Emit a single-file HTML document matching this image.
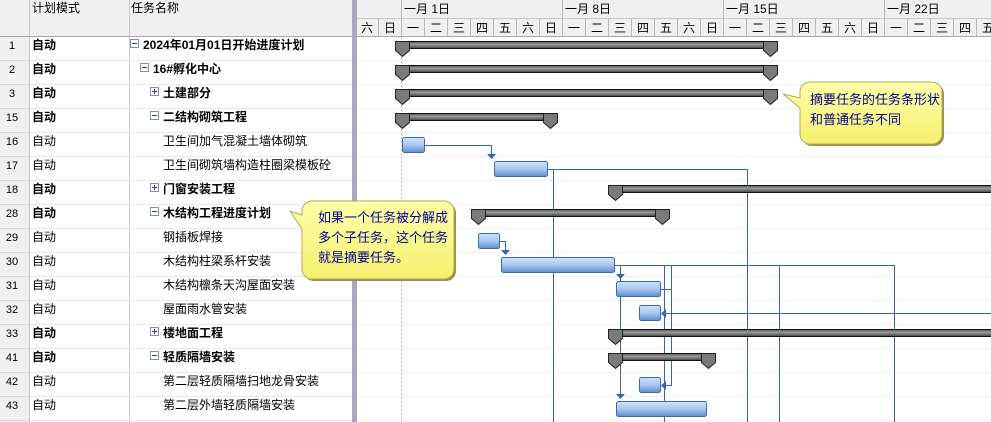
<!DOCTYPE html><html><head><meta charset="utf-8"><style>body{margin:0;width:991px;height:422px;overflow:hidden;background:#fff}svg{display:block}text{font-family:"Liberation Sans","Noto Sans CJK SC","WenQuanYi Zen Hei",sans-serif;font-size:12px}</style></head><body>
<svg width="991" height="422" xmlns="http://www.w3.org/2000/svg">
<defs>
<linearGradient id="tb" x1="0" y1="0" x2="0" y2="1"><stop offset="0" stop-color="#cfe2fb"/><stop offset="0.5" stop-color="#a9c6ef"/><stop offset="1" stop-color="#5f8ccc"/></linearGradient>
<linearGradient id="sb" x1="0" y1="0" x2="0" y2="1"><stop offset="0" stop-color="#555"/><stop offset="0.4" stop-color="#9a9a9a"/><stop offset="1" stop-color="#444"/></linearGradient>
<linearGradient id="yb" x1="0" y1="0" x2="0" y2="1"><stop offset="0" stop-color="#ffffa8"/><stop offset="1" stop-color="#f6f070"/></linearGradient>
</defs>
<!-- header -->
<rect x="0" y="0" width="991" height="36" fill="#f0f0f0"/>
<rect x="0" y="36" width="29" height="386" fill="#f0f0f0"/>
<g stroke="#c8c8c8" stroke-width="1">
<line x1="29.5" y1="0" x2="29.5" y2="422"/><line x1="129.5" y1="0" x2="129.5" y2="422"/>
<line x1="357" y1="18.5" x2="991" y2="18.5"/>
</g>
<g stroke="#e8e8e8">
<line x1="30" y1="60.5" x2="352" y2="60.5"/><line x1="30" y1="84.5" x2="352" y2="84.5"/><line x1="30" y1="108.5" x2="352" y2="108.5"/><line x1="30" y1="132.5" x2="352" y2="132.5"/><line x1="30" y1="156.5" x2="352" y2="156.5"/><line x1="30" y1="180.5" x2="352" y2="180.5"/><line x1="30" y1="204.5" x2="352" y2="204.5"/><line x1="30" y1="228.5" x2="352" y2="228.5"/><line x1="30" y1="252.5" x2="352" y2="252.5"/><line x1="30" y1="276.5" x2="352" y2="276.5"/><line x1="30" y1="300.5" x2="352" y2="300.5"/><line x1="30" y1="324.5" x2="352" y2="324.5"/><line x1="30" y1="348.5" x2="352" y2="348.5"/><line x1="30" y1="372.5" x2="352" y2="372.5"/><line x1="30" y1="396.5" x2="352" y2="396.5"/><line x1="30" y1="420.5" x2="352" y2="420.5"/>
</g>
<g stroke="#f0f0f0">
<line x1="357" y1="60.5" x2="991" y2="60.5"/><line x1="357" y1="84.5" x2="991" y2="84.5"/><line x1="357" y1="108.5" x2="991" y2="108.5"/><line x1="357" y1="132.5" x2="991" y2="132.5"/><line x1="357" y1="156.5" x2="991" y2="156.5"/><line x1="357" y1="180.5" x2="991" y2="180.5"/><line x1="357" y1="204.5" x2="991" y2="204.5"/><line x1="357" y1="228.5" x2="991" y2="228.5"/><line x1="357" y1="252.5" x2="991" y2="252.5"/><line x1="357" y1="276.5" x2="991" y2="276.5"/><line x1="357" y1="300.5" x2="991" y2="300.5"/><line x1="357" y1="324.5" x2="991" y2="324.5"/><line x1="357" y1="348.5" x2="991" y2="348.5"/><line x1="357" y1="372.5" x2="991" y2="372.5"/><line x1="357" y1="396.5" x2="991" y2="396.5"/><line x1="357" y1="420.5" x2="991" y2="420.5"/>
</g>
<g stroke="#d8d8d8"><line x1="0" y1="60.5" x2="29" y2="60.5"/><line x1="0" y1="84.5" x2="29" y2="84.5"/><line x1="0" y1="108.5" x2="29" y2="108.5"/><line x1="0" y1="132.5" x2="29" y2="132.5"/><line x1="0" y1="156.5" x2="29" y2="156.5"/><line x1="0" y1="180.5" x2="29" y2="180.5"/><line x1="0" y1="204.5" x2="29" y2="204.5"/><line x1="0" y1="228.5" x2="29" y2="228.5"/><line x1="0" y1="252.5" x2="29" y2="252.5"/><line x1="0" y1="276.5" x2="29" y2="276.5"/><line x1="0" y1="300.5" x2="29" y2="300.5"/><line x1="0" y1="324.5" x2="29" y2="324.5"/><line x1="0" y1="348.5" x2="29" y2="348.5"/><line x1="0" y1="372.5" x2="29" y2="372.5"/><line x1="0" y1="396.5" x2="29" y2="396.5"/><line x1="0" y1="420.5" x2="29" y2="420.5"/></g>
<line x1="0" y1="36.5" x2="991" y2="36.5" stroke="#a8a8a8"/>
<!-- day grid -->
<g stroke="#b8b8b8">
<line x1="378.5" y1="18" x2="378.5" y2="36"/><line x1="401.5" y1="0" x2="401.5" y2="36"/><line x1="424.5" y1="18" x2="424.5" y2="36"/><line x1="447.5" y1="18" x2="447.5" y2="36"/><line x1="470.5" y1="18" x2="470.5" y2="36"/><line x1="493.5" y1="18" x2="493.5" y2="36"/><line x1="516.5" y1="18" x2="516.5" y2="36"/><line x1="539.5" y1="18" x2="539.5" y2="36"/><line x1="562.5" y1="0" x2="562.5" y2="36"/><line x1="585.5" y1="18" x2="585.5" y2="36"/><line x1="608.5" y1="18" x2="608.5" y2="36"/><line x1="631.5" y1="18" x2="631.5" y2="36"/><line x1="654.5" y1="18" x2="654.5" y2="36"/><line x1="677.5" y1="18" x2="677.5" y2="36"/><line x1="700.5" y1="18" x2="700.5" y2="36"/><line x1="723.5" y1="0" x2="723.5" y2="36"/><line x1="746.5" y1="18" x2="746.5" y2="36"/><line x1="769.5" y1="18" x2="769.5" y2="36"/><line x1="792.5" y1="18" x2="792.5" y2="36"/><line x1="815.5" y1="18" x2="815.5" y2="36"/><line x1="838.5" y1="18" x2="838.5" y2="36"/><line x1="861.5" y1="18" x2="861.5" y2="36"/><line x1="884.5" y1="0" x2="884.5" y2="36"/><line x1="907.5" y1="18" x2="907.5" y2="36"/><line x1="930.5" y1="18" x2="930.5" y2="36"/><line x1="953.5" y1="18" x2="953.5" y2="36"/><line x1="976.5" y1="18" x2="976.5" y2="36"/>
</g>
<g text-anchor="middle" fill="#000">
<text x="367" y="32">六</text><text x="390" y="32">日</text><text x="413" y="32">一</text><text x="436" y="32">二</text><text x="459" y="32">三</text><text x="482" y="32">四</text><text x="505" y="32">五</text><text x="528" y="32">六</text><text x="551" y="32">日</text><text x="574" y="32">一</text><text x="597" y="32">二</text><text x="620" y="32">三</text><text x="643" y="32">四</text><text x="666" y="32">五</text><text x="689" y="32">六</text><text x="712" y="32">日</text><text x="735" y="32">一</text><text x="758" y="32">二</text><text x="781" y="32">三</text><text x="804" y="32">四</text><text x="827" y="32">五</text><text x="850" y="32">六</text><text x="873" y="32">日</text><text x="896" y="32">一</text><text x="919" y="32">二</text><text x="942" y="32">三</text><text x="965" y="32">四</text><text x="988" y="32">五</text>
</g>
<text x="404" y="13">一月 1日</text><text x="565" y="13">一月 8日</text><text x="726" y="13">一月 15日</text><text x="887" y="13">一月 22日</text>
<text x="32" y="12">计划模式</text><text x="131" y="12">任务名称</text>
<rect x="352" y="0" width="5" height="422" fill="#a8a8c0"/>
<line x1="401.5" y1="37" x2="401.5" y2="422" stroke="#c0c0c0" stroke-dasharray="2,2"/>
<!-- row numbers -->
<g text-anchor="middle" font-size="11">
<text x="12" y="49" style="font-size:11px">1</text><text x="12" y="73" style="font-size:11px">2</text><text x="12" y="97" style="font-size:11px">3</text><text x="12" y="121" style="font-size:11px">15</text><text x="12" y="145" style="font-size:11px">16</text><text x="12" y="169" style="font-size:11px">17</text><text x="12" y="193" style="font-size:11px">18</text><text x="12" y="217" style="font-size:11px">28</text><text x="12" y="241" style="font-size:11px">29</text><text x="12" y="265" style="font-size:11px">30</text><text x="12" y="289" style="font-size:11px">31</text><text x="12" y="313" style="font-size:11px">32</text><text x="12" y="337" style="font-size:11px">33</text><text x="12" y="361" style="font-size:11px">41</text><text x="12" y="385" style="font-size:11px">42</text><text x="12" y="409" style="font-size:11px">43</text>
</g>
<g>
<text x="32" y="49" font-weight="bold">自动</text><text x="32" y="73" font-weight="bold">自动</text><text x="32" y="97" font-weight="bold">自动</text><text x="32" y="121" font-weight="bold">自动</text><text x="32" y="145">自动</text><text x="32" y="169">自动</text><text x="32" y="193" font-weight="bold">自动</text><text x="32" y="217" font-weight="bold">自动</text><text x="32" y="241">自动</text><text x="32" y="265">自动</text><text x="32" y="289">自动</text><text x="32" y="313">自动</text><text x="32" y="337" font-weight="bold">自动</text><text x="32" y="361" font-weight="bold">自动</text><text x="32" y="385">自动</text><text x="32" y="409">自动</text>
</g>
<!-- expanders -->
<g fill="#fff" stroke="#8090a8">
<rect x="130.5" y="39.5" width="8" height="8"/><rect x="140.5" y="63.5" width="8" height="8"/><rect x="150.5" y="87.5" width="8" height="8"/><rect x="150.5" y="111.5" width="8" height="8"/><rect x="150.5" y="183.5" width="8" height="8"/><rect x="150.5" y="207.5" width="8" height="8"/><rect x="150.5" y="327.5" width="8" height="8"/><rect x="150.5" y="351.5" width="8" height="8"/>
</g>
<g stroke="#2040a0">
<line x1="132" y1="43.5" x2="137" y2="43.5"/><line x1="142" y1="67.5" x2="147" y2="67.5"/><line x1="152" y1="91.5" x2="157" y2="91.5"/><line x1="154.5" y1="89" x2="154.5" y2="94"/><line x1="152" y1="115.5" x2="157" y2="115.5"/><line x1="152" y1="187.5" x2="157" y2="187.5"/><line x1="154.5" y1="185" x2="154.5" y2="190"/><line x1="152" y1="211.5" x2="157" y2="211.5"/><line x1="152" y1="331.5" x2="157" y2="331.5"/><line x1="154.5" y1="329" x2="154.5" y2="334"/><line x1="152" y1="355.5" x2="157" y2="355.5"/>
</g>
<g>
<text x="143" y="49" font-weight="bold">2024年01月01日开始进度计划</text>
<text x="153" y="73" font-weight="bold">16#孵化中心</text>
<text x="163" y="97" font-weight="bold">土建部分</text>
<text x="163" y="121" font-weight="bold">二结构砌筑工程</text>
<text x="163" y="145">卫生间加气混凝土墙体砌筑</text>
<text x="163" y="169">卫生间砌筑墙构造柱圈梁模板砼</text>
<text x="163" y="193" font-weight="bold">门窗安装工程</text>
<text x="163" y="217" font-weight="bold">木结构工程进度计划</text>
<text x="163" y="241">钢插板焊接</text>
<text x="163" y="265">木结构柱梁系杆安装</text>
<text x="163" y="289">木结构檩条天沟屋面安装</text>
<text x="163" y="313">屋面雨水管安装</text>
<text x="163" y="337" font-weight="bold">楼地面工程</text>
<text x="163" y="361" font-weight="bold">轻质隔墙安装</text>
<text x="163" y="385">第二层轻质隔墙扫地龙骨安装</text>
<text x="163" y="409">第二层外墙轻质隔墙安装</text>
</g>
<!-- connectors -->
<g stroke="#3565ad" fill="none" stroke-width="1">
<path d="M424 145.5H491.5V156"/>
<path d="M547 169.5H747.5V422M553.5 169.5V422"/>
<path d="M500 241.5H505.5V252"/>
<path d="M614 265.5H894.5V422M620.5 265.5V276M620.5 265.5V395M664.5 265.5V422M671.5 265.5V385.5H664M779.5 265.5V422"/>
<path d="M660 289.5H671"/>
<path d="M991 313.5H664"/>
</g>
<g fill="#3565ad">
<path d="M487 154H496L491.5 159Z"/><path d="M501 250H510L505.5 255Z"/><path d="M616 274H625L620.5 279Z"/><path d="M616 394H625L620.5 399Z"/>
<path d="M666 309V318L661 313.5Z"/><path d="M666 381V390L661 385.5Z"/>
</g>
<!-- task bars -->
<g fill="url(#tb)" stroke="#3a6ab0">
<rect x="402.5" y="137.5" width="22" height="15" rx="2"/>
<rect x="494.5" y="161.5" width="53" height="15" rx="2"/>
<rect x="478.5" y="233.5" width="21" height="15" rx="2"/>
<rect x="501.5" y="257.5" width="113" height="15" rx="2"/>
<rect x="616.5" y="281.5" width="44" height="15" rx="2"/>
<rect x="639.5" y="305.5" width="21" height="15" rx="2"/>
<rect x="639.5" y="377.5" width="21" height="15" rx="2"/>
<rect x="616.5" y="401.5" width="90" height="15" rx="2"/>
</g>
<!-- summary bars -->
<g fill="url(#sb)" stroke="#111">
<rect x="402" y="41.5" width="368" height="7"/><rect x="402" y="65.5" width="368" height="7"/><rect x="402" y="89.5" width="368" height="7"/>
<rect x="402" y="113.5" width="148" height="7"/>
<rect x="615" y="185.5" width="380" height="7"/>
<rect x="478" y="209.5" width="184" height="7"/>
<rect x="615" y="329.5" width="380" height="7"/>
<rect x="615" y="353.5" width="93" height="7"/>
</g>
<g fill="#7a7a7a" stroke="#222">
<path d="M395.5 41.5h14v9l-7 6l-7-6z"/><path d="M763.5 41.5h14v9l-7 6l-7-6z"/>
<path d="M395.5 65.5h14v9l-7 6l-7-6z"/><path d="M763.5 65.5h14v9l-7 6l-7-6z"/>
<path d="M395.5 89.5h14v9l-7 6l-7-6z"/><path d="M763.5 89.5h14v9l-7 6l-7-6z"/>
<path d="M395.5 113.5h14v9l-7 6l-7-6z"/><path d="M543.5 113.5h14v9l-7 6l-7-6z"/>
<path d="M608.5 185.5h14v9l-7 6l-7-6z"/>
<path d="M471.5 209.5h14v9l-7 6l-7-6z"/><path d="M655.5 209.5h14v9l-7 6l-7-6z"/>
<path d="M608.5 329.5h14v9l-7 6l-7-6z"/>
<path d="M608.5 353.5h14v9l-7 6l-7-6z"/><path d="M701.5 353.5h14v9l-7 6l-7-6z"/>
</g>
<!-- callouts -->
<path d="M312 201h132a10 10 0 0 1 10 10v58a10 10 0 0 1-10 10h-132a10 10 0 0 1-10-10v-40l-12-18l12 4v-4a10 10 0 0 1 10-10z" fill="#9a9440" transform="translate(2,2)"/>
<path d="M312 201h132a10 10 0 0 1 10 10v58a10 10 0 0 1-10 10h-132a10 10 0 0 1-10-10v-40l-12-18l12 4v-4a10 10 0 0 1 10-10z" fill="url(#yb)" stroke="#b0a860"/>
<text x="318" y="222" fill="#000090" style="font-size:13px">如果一个任务被分解成</text>
<text x="318" y="242" fill="#000090" style="font-size:13px">多个子任务，这个任务</text>
<text x="318" y="262" fill="#000090" style="font-size:13px">就是摘要任务。</text>
<path d="M810 82h122a10 10 0 0 1 10 10v42a10 10 0 0 1-10 10h-122a10 10 0 0 1-10-10v-26l-17-14l17 4v-6a10 10 0 0 1 10-10z" fill="#9a9440" transform="translate(2,2)"/>
<path d="M810 82h122a10 10 0 0 1 10 10v42a10 10 0 0 1-10 10h-122a10 10 0 0 1-10-10v-26l-17-14l17 4v-6a10 10 0 0 1 10-10z" fill="url(#yb)" stroke="#b0a860"/>
<text x="810" y="104" fill="#000090" style="font-size:13px">摘要任务的任务条形状</text>
<text x="810" y="124" fill="#000090" style="font-size:13px">和普通任务不同</text>
</svg>
</body></html>
